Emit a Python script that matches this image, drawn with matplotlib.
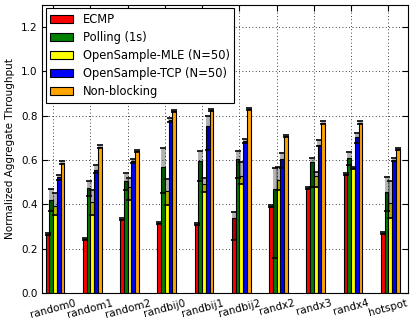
import matplotlib
matplotlib.use('Agg')
import matplotlib.pyplot as plt
import numpy as np

# Data
workloads = ['random0', 'random1', 'random2', 'randbij0', 'randbij1',
             'randbij2', 'randx2', 'randx3', 'randx4', 'hotspot']
series = ['ECMP', 'Polling (1s)', 'OpenSample-MLE (N=50)',
          'OpenSample-TCP (N=50)', 'Non-blocking']

ecmp = [0.266, 0.242, 0.334, 0.314, 0.310, 0.340, 0.392, 0.472, 0.535, 0.269]
ecmp_lo = [0.005, 0.005, 0.005, 0.005, 0.005, 0.100, 0.005, 0.005, 0.005, 0.005]
ecmp_hi = [0.005, 0.005, 0.005, 0.005, 0.005, 0.027, 0.005, 0.005, 0.005, 0.005]

polling = [0.420, 0.475, 0.507, 0.567, 0.595, 0.604, 0.469, 0.592, 0.607, 0.457]
polling_lo = [0.050, 0.040, 0.042, 0.117, 0.090, 0.087, 0.310, 0.112, 0.030, 0.087]
polling_hi = [0.048, 0.032, 0.033, 0.085, 0.045, 0.038, 0.093, 0.018, 0.030, 0.065]

mle = [0.390, 0.410, 0.480, 0.460, 0.490, 0.528, 0.510, 0.528, 0.562, 0.407]
mle_lo = [0.040, 0.058, 0.060, 0.063, 0.035, 0.038, 0.045, 0.051, 0.005, 0.067]
mle_hi = [0.060, 0.055, 0.040, 0.053, 0.030, 0.064, 0.057, 0.019, 0.005, 0.100]

tcp = [0.522, 0.555, 0.595, 0.780, 0.753, 0.686, 0.604, 0.668, 0.705, 0.600]
tcp_lo = [0.012, 0.015, 0.008, 0.010, 0.108, 0.008, 0.042, 0.005, 0.027, 0.005]
tcp_hi = [0.012, 0.022, 0.008, 0.010, 0.045, 0.008, 0.026, 0.022, 0.018, 0.010]

nonblock = [0.588, 0.660, 0.640, 0.822, 0.825, 0.828, 0.708, 0.768, 0.768, 0.650]
nonblock_lo = [0.005] * 10
nonblock_hi = [0.005] * 10

values = [ecmp, polling, mle, tcp, nonblock]
lows = [ecmp_lo, polling_lo, mle_lo, tcp_lo, nonblock_lo]
highs = [ecmp_hi, polling_hi, mle_hi, tcp_hi, nonblock_hi]
colors = ['#ff0000', '#008000', '#ffff00', '#0000ff', '#ffa500']

plt.rcParams['font.family'] = 'DejaVu Sans'
plt.rcParams['font.size'] = 7.5

fig = plt.figure(figsize=(4.11, 3.27), dpi=100)
ax = fig.add_axes([0.103, 0.104, 0.890, 0.882])

ind = np.arange(len(workloads))
width = 0.1

for i in range(len(series)):
    x = ind + i * width
    ax.bar(x, values[i], width, align='edge', color=colors[i],
           edgecolor='black', linewidth=0.8, label=series[i], zorder=2)
    xc = x + width / 2
    err = [lows[i], highs[i]]
    # translucent band plus black caps, like the old-style error bars
    ax.errorbar(xc, values[i], yerr=err, fmt='none', ecolor=(0, 0, 0, 0.3),
                elinewidth=3.5, capsize=0, zorder=3)
    ax.errorbar(xc, values[i], yerr=err, fmt='none', ecolor='black',
                elinewidth=0, capsize=2, capthick=1.2, zorder=4)

ax.set_xlim(-0.09, 9.73)
ax.set_ylim(0, 1.3)
ax.set_yticks(np.arange(0, 1.21, 0.2))
ax.set_xticks(ind + 2 * width)
ax.set_xticklabels(workloads, rotation=15, ha='center')
ax.set_ylabel('Normalized Aggregate Throughput')

ax.grid(True, linestyle=(0, (1, 3)), color='black', linewidth=0.6)
ax.set_axisbelow(True)
ax.tick_params(direction='in', top=True, right=True, length=4)

leg = ax.legend(loc='upper left', fancybox=False, framealpha=1,
                edgecolor='black', fontsize=8.3, handlelength=2.0,
                borderaxespad=0.3, labelspacing=0.45)
leg.get_frame().set_linewidth(0.8)

plt.savefig('out.png', dpi=100)
